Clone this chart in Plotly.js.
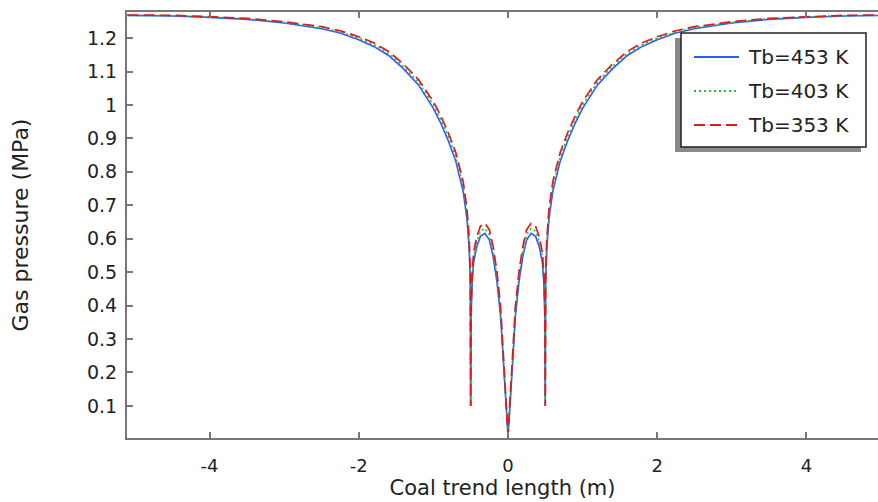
<!DOCTYPE html>
<html>
<head>
<meta charset="utf-8">
<script src="https://cdn.plot.ly/plotly-3.0.1.min.js"></script>
<style>html,body{margin:0;padding:0;background:#fff;}#chart{width:878px;height:502px;}</style>
</head>
<body>
<div id="chart"></div>
<script>
// Coal trend length (m)
const xPos = [-5.1, -4.5, -4.0, -3.5, -3.0, -2.5, -2.25, -2.0, -1.8, -1.6, -1.4, -1.2, -1.0, -0.9, -0.8, -0.7, -0.6, -0.55, -0.52, -0.505, -0.5,
  -0.493, -0.48, -0.46, -0.42, -0.37, -0.31, -0.25, -0.2, -0.15, -0.1, -0.06, -0.03, -0.01, 0,
  0.01, 0.03, 0.06, 0.1, 0.15, 0.2, 0.25, 0.31, 0.37, 0.42, 0.46, 0.48, 0.493,
  0.5, 0.505, 0.52, 0.55, 0.6, 0.7, 0.8, 0.9, 1.0, 1.2, 1.4, 1.6, 1.8, 2.0, 2.25, 2.5, 3.0, 3.5, 4.0, 4.5, 5.1];

// Gas pressure (MPa)
const p453 = [1.268, 1.266, 1.262, 1.256, 1.245, 1.228, 1.215, 1.195, 1.175, 1.148, 1.108, 1.06, 0.99, 0.945, 0.893, 0.832, 0.74, 0.66, 0.57, 0.47, 0.10,
  0.38, 0.47, 0.53, 0.575, 0.607, 0.616, 0.597, 0.548, 0.475, 0.37, 0.22, 0.10, 0.04, 0.013,
  0.04, 0.10, 0.22, 0.37, 0.475, 0.548, 0.597, 0.616, 0.607, 0.575, 0.53, 0.47, 0.38,
  0.10, 0.47, 0.57, 0.66, 0.74, 0.832, 0.893, 0.945, 0.99, 1.06, 1.108, 1.148, 1.175, 1.195, 1.215, 1.228, 1.245, 1.256, 1.262, 1.266, 1.268];

const p403 = [1.268, 1.267, 1.263, 1.258, 1.247, 1.231, 1.218, 1.200, 1.181, 1.154, 1.115, 1.068, 1.000, 0.956, 0.905, 0.845, 0.755, 0.675, 0.585, 0.485, 0.10,
  0.395, 0.485, 0.545, 0.59, 0.622, 0.631, 0.612, 0.563, 0.49, 0.385, 0.235, 0.11, 0.045, 0.013,
  0.045, 0.11, 0.235, 0.385, 0.49, 0.563, 0.612, 0.631, 0.622, 0.59, 0.545, 0.485, 0.395,
  0.10, 0.485, 0.585, 0.675, 0.755, 0.845, 0.905, 0.956, 1.000, 1.068, 1.115, 1.154, 1.181, 1.200, 1.218, 1.231, 1.247, 1.258, 1.263, 1.267, 1.268];

const p353 = [1.269, 1.268, 1.264, 1.259, 1.249, 1.234, 1.222, 1.204, 1.186, 1.160, 1.122, 1.076, 1.010, 0.967, 0.917, 0.858, 0.770, 0.690, 0.600, 0.50, 0.10,
  0.41, 0.50, 0.56, 0.605, 0.637, 0.646, 0.627, 0.578, 0.505, 0.40, 0.25, 0.12, 0.05, 0.013,
  0.05, 0.12, 0.25, 0.40, 0.505, 0.578, 0.627, 0.646, 0.637, 0.605, 0.56, 0.50, 0.41,
  0.10, 0.50, 0.600, 0.690, 0.770, 0.858, 0.917, 0.967, 1.010, 1.076, 1.122, 1.160, 1.186, 1.204, 1.222, 1.234, 1.249, 1.259, 1.264, 1.268, 1.269];

const seriesNames = ['Tb=453 K', 'Tb=403 K', 'Tb=353 K'];
const xTicks = [-4, -2, 0, 2, 4];
const xTickText = ['-4', '-2', '0', '2', '4'];
const yTicks = [0.1, 0.2, 0.3, 0.4, 0.5, 0.6, 0.7, 0.8, 0.9, 1, 1.1, 1.2];

const font = 'DejaVu Sans, sans-serif';
const colors = ['#2a5cff', '#22c033', '#e01a1a'];
const dashes = ['solid', '2px,3px', '11px,5px'];
const widths = [1.6, 1.6, 1.7];
const series = [p453, p403, p353];

const traces = series.map((ys, i) => ({
  x: xPos, y: ys, name: seriesNames[i], mode: 'lines',
  line: {color: colors[i], width: widths[i], dash: dashes[i]}
}));

// legend drawn by hand (pixel -> paper helpers for layout placement)
const L = 127, R = 878, T = 12, B = 438;
const px = v => (v - L) / (R - L);
const py = v => (B - v) / (B - T);

const shapes = [
  {type: 'rect', xref: 'paper', yref: 'paper', x0: px(675), x1: px(861), y0: py(152), y1: py(38),
   fillcolor: '#8a8a8a', line: {width: 0}, layer: 'above'},
  {type: 'rect', xref: 'paper', yref: 'paper', x0: px(681), x1: px(866), y0: py(147), y1: py(33),
   fillcolor: '#ffffff', line: {color: '#222', width: 1.5}, layer: 'above'}
];
const annotations = [];
const rowY = [57, 91, 125];
seriesNames.forEach((n, i) => {
  shapes.push({type: 'line', xref: 'paper', yref: 'paper', x0: px(694), x1: px(739), y0: py(rowY[i]), y1: py(rowY[i]),
    line: {color: colors[i], width: 2, dash: dashes[i]}, layer: 'above'});
  annotations.push({xref: 'paper', yref: 'paper', x: px(746), y: py(rowY[i]), xanchor: 'left', yanchor: 'middle',
    text: n, showarrow: false, font: {family: font, size: 20, color: '#222'}});
});

const layout = {
  width: 878, height: 502,
  margin: {l: 127, r: 0, t: 12, b: 64},
  paper_bgcolor: '#ffffff', plot_bgcolor: '#ffffff',
  font: {family: font, size: 15, color: '#222'},
  showlegend: false,
  xaxis: {
    range: [-5.107, 4.96], tickvals: xTicks, ticktext: xTickText, ticks: 'inside', ticklen: 6, tickwidth: 2,
    tickcolor: '#777', showline: true, linecolor: '#777', linewidth: 2, mirror: 'allticks',
    showgrid: false, zeroline: false, ticklabelstandoff: 10,
    tickfont: {family: font, size: 18, color: '#222'},
    title: {text: 'Coal trend length (m)', font: {family: font, size: 21, color: '#222'}, standoff: 6}
  },
  yaxis: {
    range: [0.004, 1.278], tickvals: yTicks, ticks: 'inside', ticklen: 6, tickwidth: 2,
    tickcolor: '#777', showline: true, linecolor: '#777', linewidth: 2, mirror: false,
    showgrid: false, zeroline: false, ticklabelstandoff: 4,
    tickfont: {family: font, size: 19, color: '#222'},
    title: {text: 'Gas pressure (MPa)', font: {family: font, size: 22, color: '#222'}, standoff: 52}
  },
  shapes: shapes,
  annotations: annotations
};

Plotly.newPlot('chart', traces, layout, {displayModeBar: false, staticPlot: true});
</script>
</body>
</html>
